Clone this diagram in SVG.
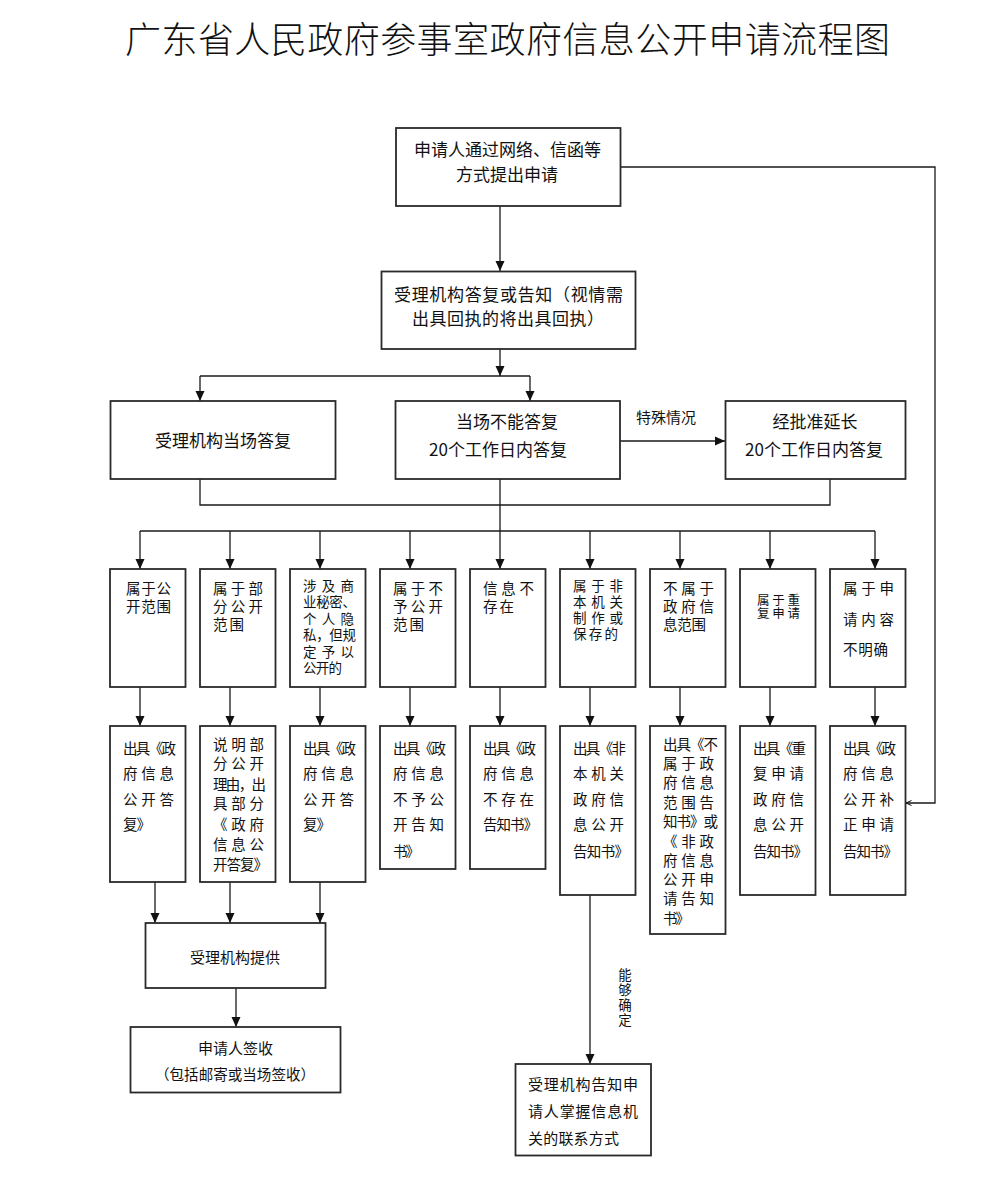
<svg xmlns="http://www.w3.org/2000/svg" width="991" height="1179" viewBox="0 0 991 1179">
<style>
.bg{fill:#fff}
.b{fill:#fff;stroke:#2a2a2a;stroke-width:1.8}
.t{font-family:"Noto Sans CJK SC","Noto Sans CJK JP",sans-serif;fill:#111;dominant-baseline:central}
.f17{font-size:17px}
.f15{font-size:15px}
.f14{font-size:14.5px}
.f13{font-size:13.5px}
.f12{font-size:12.5px}
.m{text-anchor:middle}
.c{stroke:#1a1a1a;stroke-width:1.3;fill:none}
.title{font-family:"Noto Sans CJK SC","Noto Sans CJK JP",sans-serif;font-size:36px;font-weight:300;fill:#111;dominant-baseline:central}
</style>
<defs>
<marker id="ah" markerUnits="userSpaceOnUse" markerWidth="10" markerHeight="10" refX="10" refY="5" orient="auto"><path d="M0,0.5 L10,5 L0,9.5 z" fill="#111"/></marker>
<marker id="sa" markerUnits="userSpaceOnUse" markerWidth="7" markerHeight="7" refX="6" refY="3.5" orient="auto"><path d="M0.5,1 L6,3.5 L0.5,6" fill="none" stroke="#111" stroke-width="1"/></marker>
</defs>
<rect class="bg" x="0" y="0" width="991" height="1179"/>
<text class="title" x="125" y="37" textLength="765" lengthAdjust="spacing">广东省人民政府参事室政府信息公开申请流程图</text>

<g id="connectors">
<line class="c" x1="500" y1="206" x2="500" y2="271" marker-end="url(#ah)"/>
<line class="c" x1="500" y1="349" x2="500" y2="376" marker-end="url(#ah)"/>
<polyline class="c" points="200,376 530,376"/>
<line class="c" x1="200" y1="376" x2="200" y2="401" marker-end="url(#ah)"/>
<line class="c" x1="530" y1="376" x2="530" y2="401" marker-end="url(#ah)"/>
<line class="c" x1="620" y1="441" x2="725" y2="441" marker-end="url(#ah)"/>
<polyline class="c" points="200,479 200,505 830,505 830,479"/>
<line class="c" x1="500" y1="479" x2="500" y2="531"/>
<line class="c" x1="140" y1="531" x2="875" y2="531"/>
<line class="c" x1="140" y1="531" x2="140" y2="569" marker-end="url(#ah)"/>
<line class="c" x1="230" y1="531" x2="230" y2="569" marker-end="url(#ah)"/>
<line class="c" x1="320" y1="531" x2="320" y2="569" marker-end="url(#ah)"/>
<line class="c" x1="410" y1="531" x2="410" y2="569" marker-end="url(#ah)"/>
<line class="c" x1="500" y1="531" x2="500" y2="569" marker-end="url(#ah)"/>
<line class="c" x1="590" y1="531" x2="590" y2="569" marker-end="url(#ah)"/>
<line class="c" x1="680" y1="531" x2="680" y2="569" marker-end="url(#ah)"/>
<line class="c" x1="770" y1="531" x2="770" y2="569" marker-end="url(#ah)"/>
<line class="c" x1="875" y1="531" x2="875" y2="569" marker-end="url(#ah)"/>
<line class="c" x1="140" y1="687" x2="140" y2="726" marker-end="url(#ah)"/>
<line class="c" x1="230" y1="687" x2="230" y2="726" marker-end="url(#ah)"/>
<line class="c" x1="320" y1="687" x2="320" y2="726" marker-end="url(#ah)"/>
<line class="c" x1="410" y1="687" x2="410" y2="726" marker-end="url(#ah)"/>
<line class="c" x1="500" y1="687" x2="500" y2="726" marker-end="url(#ah)"/>
<line class="c" x1="590" y1="687" x2="590" y2="726" marker-end="url(#ah)"/>
<line class="c" x1="680" y1="687" x2="680" y2="726" marker-end="url(#ah)"/>
<line class="c" x1="770" y1="687" x2="770" y2="726" marker-end="url(#ah)"/>
<line class="c" x1="875" y1="687" x2="875" y2="726" marker-end="url(#ah)"/>
<line class="c" x1="155" y1="882" x2="155" y2="923" marker-end="url(#ah)"/>
<line class="c" x1="230" y1="882" x2="230" y2="923" marker-end="url(#ah)"/>
<line class="c" x1="320" y1="882" x2="320" y2="923" marker-end="url(#ah)"/>
<line class="c" x1="236" y1="988" x2="236" y2="1027" marker-end="url(#ah)"/>
<line class="c" x1="590" y1="895" x2="590" y2="1064" marker-end="url(#ah)"/>
<polyline class="c" points="620,167 935,167 935,803 906,803" marker-end="url(#sa)"/>
<text class="t f15" x="636" y="416">特殊情况</text>
<text class="t f13 m"><tspan x="625" y="974">能</tspan><tspan x="625" y="989">够</tspan><tspan x="625" y="1004">确</tspan><tspan x="625" y="1019">定</tspan></text>
</g>

<g id="nA">
<rect class="b" x="396" y="128" width="224.5" height="78"/>
<text class="t f17 m"><tspan x="507.5" y="148.3">申请人通过网络、信函等</tspan><tspan x="507" y="173.3">方式提出申请</tspan></text>
</g>
<g id="nB">
<rect class="b" x="381.5" y="271.5" width="254" height="77.5"/>
<text class="t f17"><tspan x="394" y="292.7" textLength="229" lengthAdjust="spacing">受理机构答复或告知（视情需</tspan><tspan x="412" y="317.3" textLength="192" lengthAdjust="spacing">出具回执的将出具回执）</tspan></text>
</g>
<g id="nC">
<rect class="b" x="110.5" y="401" width="225" height="78"/>
<text class="t f17 m" x="223" y="439.3">受理机构当场答复</text>
</g>
<g id="nD">
<rect class="b" x="395.5" y="401" width="224.5" height="78"/>
<text class="t f17 m"><tspan x="507" y="420">当场不能答复</tspan><tspan x="498" y="448.3">20个工作日内答复</tspan></text>
</g>
<g id="nE">
<rect class="b" x="725.5" y="401" width="180" height="78"/>
<text class="t f17 m"><tspan x="815" y="420">经批准延长</tspan><tspan x="814" y="448.3">20个工作日内答复</tspan></text>
</g>

<g id="n1">
<rect class="b" x="110" y="569" width="75.5" height="118"/>
<text class="t f14"><tspan x="126" y="586.7" textLength="45" lengthAdjust="spacing">属于公</tspan><tspan x="126" y="605" textLength="45" lengthAdjust="spacing">开范围</tspan></text>
</g>
<g id="n2">
<rect class="b" x="200" y="569" width="75.5" height="118"/>
<text class="t f14"><tspan x="213" y="586.7" textLength="50" lengthAdjust="spacing">属于部</tspan><tspan x="213" y="605" textLength="50" lengthAdjust="spacing">分公开</tspan><tspan x="213" y="623" textLength="31" lengthAdjust="spacing">范围</tspan></text>
</g>
<g id="n3">
<rect class="b" x="290" y="569" width="75.5" height="118"/>
<text class="t f13"><tspan x="303" y="585" textLength="51" lengthAdjust="spacing">涉及商</tspan><tspan x="303" y="601.4" textLength="53" lengthAdjust="spacing">业秘密、</tspan><tspan x="303" y="617.8" textLength="51" lengthAdjust="spacing">个人隐</tspan><tspan x="303" y="634.2" textLength="53" lengthAdjust="spacing">私，但规</tspan><tspan x="303" y="650.6" textLength="51" lengthAdjust="spacing">定予以</tspan><tspan x="303" y="667" textLength="39" lengthAdjust="spacing">公开的</tspan></text>
</g>
<g id="n4">
<rect class="b" x="380" y="569" width="75.5" height="118"/>
<text class="t f14"><tspan x="393" y="586.7" textLength="50" lengthAdjust="spacing">属于不</tspan><tspan x="393" y="605" textLength="50" lengthAdjust="spacing">予公开</tspan><tspan x="393" y="623" textLength="31" lengthAdjust="spacing">范围</tspan></text>
</g>
<g id="n5">
<rect class="b" x="470" y="569" width="75.5" height="118"/>
<text class="t f14"><tspan x="483" y="586.7" textLength="51" lengthAdjust="spacing">信息不</tspan><tspan x="483" y="605" textLength="31" lengthAdjust="spacing">存在</tspan></text>
</g>
<g id="n6">
<rect class="b" x="560" y="569" width="75.5" height="118"/>
<text class="t f13"><tspan x="573" y="585" textLength="50" lengthAdjust="spacing">属于非</tspan><tspan x="573" y="601" textLength="50" lengthAdjust="spacing">本机关</tspan><tspan x="573" y="617" textLength="50" lengthAdjust="spacing">制作或</tspan><tspan x="573" y="633" textLength="45" lengthAdjust="spacing">保存的</tspan></text>
</g>
<g id="n7">
<rect class="b" x="650" y="569" width="75.5" height="118"/>
<text class="t f14"><tspan x="663" y="586.7" textLength="51" lengthAdjust="spacing">不属于</tspan><tspan x="663" y="605" textLength="51" lengthAdjust="spacing">政府信</tspan><tspan x="663" y="623" textLength="43" lengthAdjust="spacing">息范围</tspan></text>
</g>
<g id="n8">
<rect class="b" x="740" y="569" width="75.5" height="118"/>
<text class="t f12"><tspan x="757" y="599" textLength="43" lengthAdjust="spacing">属于重</tspan><tspan x="757" y="612" textLength="43" lengthAdjust="spacing">复申请</tspan></text>
</g>
<g id="n9">
<rect class="b" x="830" y="569" width="75.5" height="118"/>
<text class="t f14"><tspan x="843" y="586.7" textLength="51" lengthAdjust="spacing">属于申</tspan><tspan x="843" y="618" textLength="51" lengthAdjust="spacing">请内容</tspan><tspan x="843" y="648" textLength="45" lengthAdjust="spacing">不明确</tspan></text>
</g>

<g id="r1">
<rect class="b" x="110" y="726" width="75.5" height="156"/>
<text class="t f14"><tspan x="123" y="746.7" textLength="53" lengthAdjust="spacing">出具《政</tspan><tspan x="123" y="771.7" textLength="51" lengthAdjust="spacing">府信息</tspan><tspan x="123" y="798" textLength="51" lengthAdjust="spacing">公开答</tspan><tspan x="123" y="823" textLength="28" lengthAdjust="spacing">复》</tspan></text>
</g>
<g id="r2">
<rect class="b" x="200" y="726" width="75.5" height="156"/>
<text class="t f14"><tspan x="213" y="743" textLength="51" lengthAdjust="spacing">说明部</tspan><tspan x="213" y="762" textLength="51" lengthAdjust="spacing">分公开</tspan><tspan x="213" y="783" textLength="53" lengthAdjust="spacing">理由，出</tspan><tspan x="213" y="802" textLength="51" lengthAdjust="spacing">具部分</tspan><tspan x="213" y="823" textLength="51" lengthAdjust="spacing">《政府</tspan><tspan x="213" y="843" textLength="51" lengthAdjust="spacing">信息公</tspan><tspan x="213" y="863" textLength="55" lengthAdjust="spacing">开答复》</tspan></text>
</g>
<g id="r3">
<rect class="b" x="290" y="726" width="75.5" height="156"/>
<text class="t f14"><tspan x="303" y="746.7" textLength="53" lengthAdjust="spacing">出具《政</tspan><tspan x="303" y="771.7" textLength="51" lengthAdjust="spacing">府信息</tspan><tspan x="303" y="798" textLength="51" lengthAdjust="spacing">公开答</tspan><tspan x="303" y="823" textLength="28" lengthAdjust="spacing">复》</tspan></text>
</g>
<g id="r4">
<rect class="b" x="380" y="726" width="75.5" height="143"/>
<text class="t f14"><tspan x="393" y="746.7" textLength="53" lengthAdjust="spacing">出具《政</tspan><tspan x="393" y="771.7" textLength="51" lengthAdjust="spacing">府信息</tspan><tspan x="393" y="798" textLength="51" lengthAdjust="spacing">不予公</tspan><tspan x="393" y="823" textLength="51" lengthAdjust="spacing">开告知</tspan><tspan x="393" y="850" textLength="27" lengthAdjust="spacing">书》</tspan></text>
</g>
<g id="r5">
<rect class="b" x="470" y="726" width="75.5" height="143"/>
<text class="t f14"><tspan x="483" y="746.7" textLength="53" lengthAdjust="spacing">出具《政</tspan><tspan x="483" y="771.7" textLength="51" lengthAdjust="spacing">府信息</tspan><tspan x="483" y="798" textLength="51" lengthAdjust="spacing">不存在</tspan><tspan x="483" y="823" textLength="55" lengthAdjust="spacing">告知书》</tspan></text>
</g>
<g id="r6">
<rect class="b" x="560" y="726" width="75.5" height="169"/>
<text class="t f14"><tspan x="573" y="746.7" textLength="53" lengthAdjust="spacing">出具《非</tspan><tspan x="573" y="771.7" textLength="51" lengthAdjust="spacing">本机关</tspan><tspan x="573" y="798" textLength="51" lengthAdjust="spacing">政府信</tspan><tspan x="573" y="823" textLength="51" lengthAdjust="spacing">息公开</tspan><tspan x="573" y="850" textLength="56" lengthAdjust="spacing">告知书》</tspan></text>
</g>
<g id="r7">
<rect class="b" x="650" y="726" width="75.5" height="208"/>
<text class="t f14"><tspan x="663" y="743" textLength="55" lengthAdjust="spacing">出具《不</tspan><tspan x="663" y="762" textLength="51" lengthAdjust="spacing">属于政</tspan><tspan x="663" y="781" textLength="51" lengthAdjust="spacing">府信息</tspan><tspan x="663" y="801" textLength="51" lengthAdjust="spacing">范围告</tspan><tspan x="663" y="820" textLength="55" lengthAdjust="spacing">知书》或</tspan><tspan x="663" y="840" textLength="51" lengthAdjust="spacing">《非政</tspan><tspan x="663" y="859" textLength="51" lengthAdjust="spacing">府信息</tspan><tspan x="663" y="878" textLength="51" lengthAdjust="spacing">公开申</tspan><tspan x="663" y="897" textLength="51" lengthAdjust="spacing">请告知</tspan><tspan x="663" y="917" textLength="27" lengthAdjust="spacing">书》</tspan></text>
</g>
<g id="r8">
<rect class="b" x="740" y="726" width="75.5" height="169"/>
<text class="t f14"><tspan x="753" y="746.7" textLength="53" lengthAdjust="spacing">出具《重</tspan><tspan x="753" y="771.7" textLength="51" lengthAdjust="spacing">复申请</tspan><tspan x="753" y="798" textLength="51" lengthAdjust="spacing">政府信</tspan><tspan x="753" y="823" textLength="51" lengthAdjust="spacing">息公开</tspan><tspan x="753" y="850" textLength="55" lengthAdjust="spacing">告知书》</tspan></text>
</g>
<g id="r9">
<rect class="b" x="830" y="726" width="75.5" height="169"/>
<text class="t f14"><tspan x="843" y="746.7" textLength="53" lengthAdjust="spacing">出具《政</tspan><tspan x="843" y="771.7" textLength="51" lengthAdjust="spacing">府信息</tspan><tspan x="843" y="798" textLength="51" lengthAdjust="spacing">公开补</tspan><tspan x="843" y="823" textLength="51" lengthAdjust="spacing">正申请</tspan><tspan x="843" y="850" textLength="55" lengthAdjust="spacing">告知书》</tspan></text>
</g>

<g id="nF">
<rect class="b" x="145.5" y="923" width="180" height="65"/>
<text class="t f15 m" x="235" y="956.7">受理机构提供</text>
</g>
<g id="nG">
<rect class="b" x="130.5" y="1027" width="210" height="65.5"/>
<text class="t f15"><tspan x="235.5" y="1046.7" text-anchor="middle">申请人签收</tspan><tspan x="155" y="1073" font-size="14.5" textLength="160" lengthAdjust="spacing">（包括邮寄或当场签收）</tspan></text>
</g>
<g id="nH">
<rect class="b" x="515.5" y="1064" width="135.5" height="91.5"/>
<text class="t f15"><tspan x="528" y="1083" textLength="110" lengthAdjust="spacing">受理机构告知申</tspan><tspan x="528" y="1110" textLength="110" lengthAdjust="spacing">请人掌握信息机</tspan><tspan x="528" y="1137" textLength="91" lengthAdjust="spacing">关的联系方式</tspan></text>
</g>
</svg>
